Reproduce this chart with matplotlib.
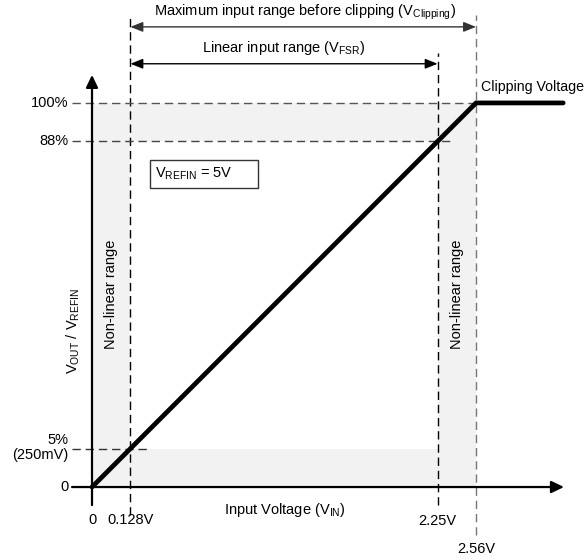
import matplotlib
matplotlib.use("Agg")
import matplotlib.pyplot as plt
from matplotlib.patches import Rectangle

plt.rcParams["font.family"] = ["Liberation Sans", "DejaVu Sans"]
plt.rcParams["mathtext.fontset"] = "custom"
plt.rcParams["mathtext.rm"] = "Liberation Sans"
plt.rcParams["mathtext.it"] = "Liberation Sans"

# schematic positions (percent of the clipping range), not to scale
x_pos = [0, 10, 90, 100]
x_labels = ["0", "0.128V", "2.25V", "2.56V"]
y_pos = [0, 10, 90, 100]
y_labels = ["0", "5%\n(250mV)", "88%", "100%"]

# transfer curve: linear up to clipping, then flat
curve_x = [0, 100, 122.7]
curve_y = [0, 100, 100]

FS = 10.5
fig = plt.figure(figsize=(5.87, 5.60), dpi=100)
ax = fig.add_axes([0, 0, 1, 1])
ax.set_xlim(-23.96, 128.9)
ax.set_ylim(-19.0, 126.8)
ax.axis("off")

x0, x_lo, x_hi, x_clip = x_pos
y0, y_lo, y_hi, y_clip = y_pos

# shaded non-linear frame
shade = "#f2f2f2"
ax.fill_between([x0, x_clip], y_hi, y_clip, color=shade, lw=0, zorder=0)
ax.fill_between([x0, x_lo], y0, y_hi, color=shade, lw=0, zorder=0)
ax.fill_between([x_hi, x_clip], y0, y_hi, color=shade, lw=0, zorder=0)
ax.fill_between([x_lo, x_hi], y0, y_lo, color=shade, lw=0, zorder=0)

dash = dict(lw=1.0, dashes=(6, 3.5), zorder=1)
# vertical guides
ax.plot([x_lo, x_lo], [-7.3, 122.9], color="black", **dash)
ax.plot([x_hi, x_hi], [-4.7, 113.0], color="black", **dash)
ax.plot([x_clip, x_clip], [-12.5, 122.9], color="#777777", **dash)
# horizontal guides
ax.plot([-5.2, x_clip], [y_clip, y_clip], color="#555555", **dash)
ax.plot([-5.2, 94.0], [y_hi, y_hi], color="#444444", **dash)
ax.plot([-5.2, 14.3], [y_lo, y_lo], color="#333333", **dash)

# axes with arrow heads
head = "-|>,head_length=0.75,head_width=0.36"
ax.annotate("", xy=(0, 107.3), xytext=(0, -4.7),
            arrowprops=dict(arrowstyle=head, lw=1.6, color="black",
                            shrinkA=0, shrinkB=0), zorder=2)
ax.annotate("", xy=(122.9, 0), xytext=(-5.2, 0),
            arrowprops=dict(arrowstyle=head, lw=1.6, color="black",
                            shrinkA=0, shrinkB=0), zorder=2)

# range arrows
both = "<|-|>,head_length=0.75,head_width=0.3"
ax.annotate("", xy=(x_clip, 119.8), xytext=(x_lo, 119.8),
            arrowprops=dict(arrowstyle=both, lw=1.0, color="#333333",
                            shrinkA=0, shrinkB=0))
ax.annotate("", xy=(x_hi, 110.2), xytext=(x_lo, 110.2),
            arrowprops=dict(arrowstyle=both, lw=1.0, color="black",
                            shrinkA=0, shrinkB=0))
ax.text(55.5, 123.7, r"Maximum input range before clipping (V$_{\mathrm{Clipping}}$)",
        ha="center", va="center", fontsize=FS)
ax.text(50.0, 114.3, r"Linear input range (V$_{\mathrm{FSR}}$)",
        ha="center", va="center", fontsize=FS)

# transfer curve
ax.plot(curve_x, curve_y, color="black", lw=3.4, solid_capstyle="round",
        solid_joinstyle="miter", zorder=3)
ax.text(101.2, 104.2, "Clipping Voltage", ha="left", va="center", fontsize=10.2)

# reference box
ax.add_patch(Rectangle((15.1, 77.9), 28.1, 7.3, fill=False, ec="#333333",
                       lw=1.0, zorder=4))
ax.text(16.4, 81.5, r"V$_{\mathrm{REFIN}}$ = 5V", ha="left", va="center",
        fontsize=FS, zorder=5)

# non-linear labels
ax.text((x0 + x_lo) / 2, 50.3, "Non-linear range", rotation=90,
        ha="center", va="center", fontsize=FS)
ax.text((x_hi + x_clip) / 2, 50.3, "Non-linear range", rotation=90,
        ha="center", va="center", fontsize=FS)

# axis titles
ax.text(-4.9, 40.5, r"V$_{\mathrm{OUT}}$ / V$_{\mathrm{REFIN}}$", rotation=90,
        ha="center", va="center", fontsize=FS)
ax.text(50.2, -6.0, r"Input Voltage (V$_{\mathrm{IN}}$)", ha="center",
        va="center", fontsize=FS)

# tick labels
x_label_y = [-8.6, -8.6, -8.9, -16.1]
for xp, lab, yy in zip(x_pos, x_labels, x_label_y):
    ax.text(xp, yy, lab, ha="center", va="center", fontsize=FS)
y_label_off = [0, 0.4, 0, 0]
for yp, lab, dy in zip(y_pos, y_labels, y_label_off):
    ax.text(-6.2, yp + dy, lab, ha="right", va="center", fontsize=FS,
            multialignment="right", linespacing=1.1)

fig.savefig("out.png", dpi=100, facecolor="white")
plt.close(fig)
